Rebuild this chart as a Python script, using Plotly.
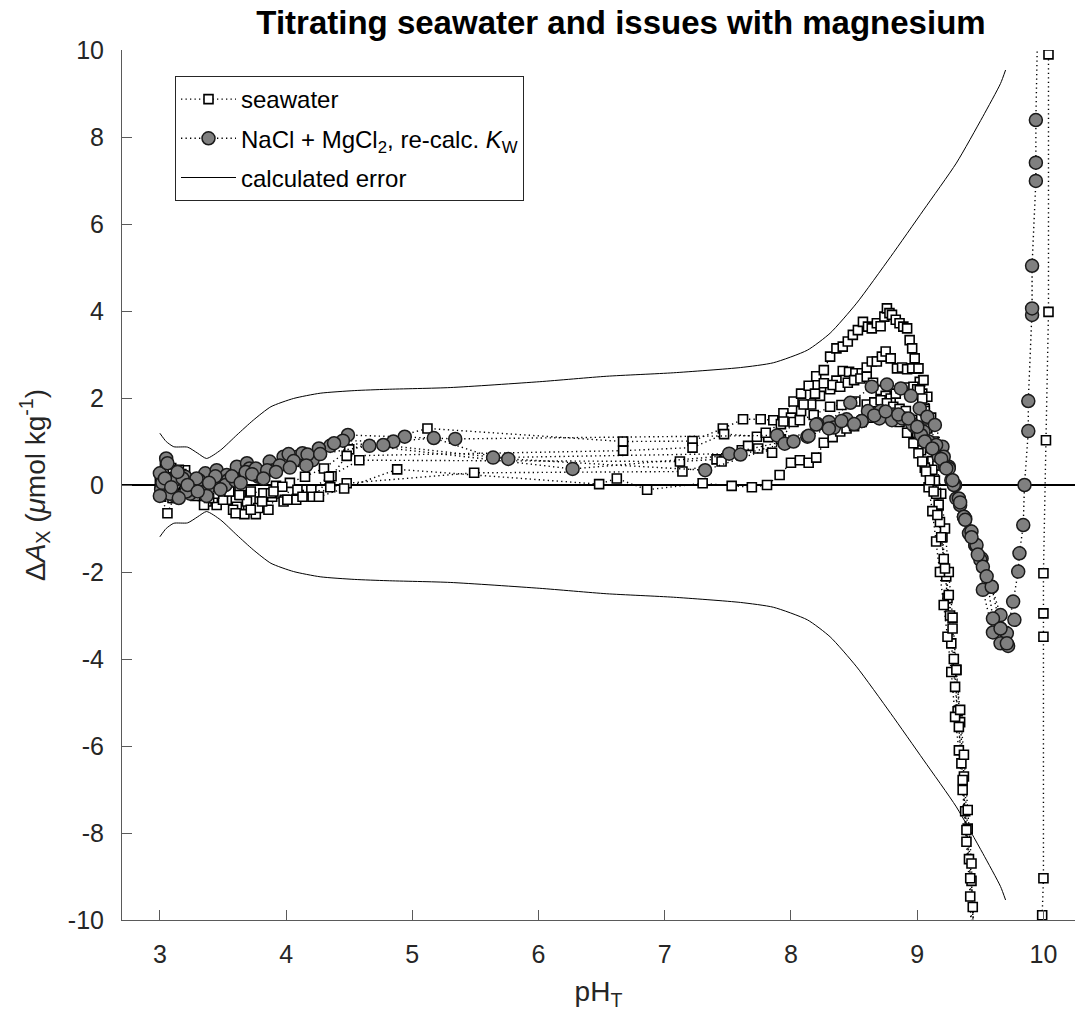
import plotly.graph_objects as go

# ---------------- data ----------------
# seawater titrations (squares)
sw1_x = [3.00, 3.04, 3.09, 3.14, 3.20, 3.26, 3.33, 3.40, 3.48, 3.56,
         3.64, 3.72, 3.82, 3.92, 4.03, 4.15, 4.30, 4.50, 5.12, 6.67,
         7.22, 7.46, 7.62, 7.76, 7.86, 7.94, 8.02, 8.08, 8.14, 8.20,
         8.26, 8.31, 8.36, 8.41, 8.45, 8.49, 8.53, 8.57, 8.61, 8.64,
         8.68, 8.71, 8.74, 8.76, 8.78, 8.80, 8.83, 8.86, 8.89, 8.92,
         8.94, 8.96, 8.98, 9.00, 9.02, 9.04, 9.06, 9.08, 9.10, 9.12,
         9.14, 9.17, 9.20, 9.23, 9.26, 9.29, 9.32, 9.35, 9.38, 9.41,
         9.44, 9.50]
sw1_y = [0.05, 0.50, 0.39, 0.20, 0.34, 0.10, -0.05, -0.20, -0.10, -0.15,
         -0.23, -0.15, -0.19, -0.02, 0.05, 0.19, 0.38, 0.82, 1.30, 1.00,
         1.01, 1.30, 1.51, 1.51, 1.49, 1.65, 1.92, 2.10, 2.28, 2.50,
         2.64, 2.95, 3.14, 3.18, 3.30, 3.45, 3.56, 3.75, 3.64, 3.60,
         3.72, 3.65, 3.87, 4.06, 3.95, 3.91, 3.80, 3.72, 3.64, 3.60,
         3.33, 3.14, 2.91, 2.68, 2.37, 2.10, 1.75, 1.35, 0.96, 0.55,
         0.10, -0.45, -1.20, -2.10, -3.00, -4.00, -5.20, -6.40, -7.50, -8.60,
         -9.70, -13.0]

sw2_x = [3.01, 3.06, 3.11, 3.17, 3.23, 3.30, 3.37, 3.45, 3.53, 3.61,
         3.70, 3.79, 3.89, 3.99, 4.10, 4.22, 4.36, 4.48, 6.67, 7.22,
         7.47, 7.73, 7.82, 7.92, 8.00, 8.08, 8.16, 8.23, 8.31, 8.36,
         8.41, 8.46, 8.51, 8.56, 8.60, 8.64, 8.68, 8.72, 8.75, 8.79,
         8.84, 8.88, 8.92, 8.96, 9.01, 9.05, 9.08, 9.11, 9.13, 9.16,
         9.19, 9.22, 9.25, 9.28, 9.31, 9.34, 9.37, 9.40, 9.43, 9.48]
sw2_y = [-0.27, -0.65, -0.30, 0.25, 0.05, -0.20, -0.38, -0.46, -0.34, -0.50,
         -0.57, -0.38, -0.27, -0.34, -0.23, -0.27, 0.20, 0.67, 0.79, 0.86,
         1.17, 1.11, 1.10, 1.40, 1.55, 1.70, 1.85, 2.05, 2.20, 2.40,
         2.62, 2.60, 2.57, 2.57, 2.70, 2.84, 2.84, 2.95, 3.07, 2.91,
         2.68, 2.70, 2.66, 2.68, 2.68, 2.41, 2.03, 1.55, 1.00, 0.45,
         -0.20, -1.00, -2.00, -3.05, -4.25, -5.45, -6.70, -7.90, -9.10, -13.0]

sw3_x = [3.02, 3.07, 3.13, 3.19, 3.26, 3.34, 3.42, 3.50, 3.58, 3.67,
         3.76, 3.86, 3.97, 4.08, 4.20, 4.34, 4.58, 7.12, 7.41, 7.61,
         7.74, 7.85, 7.92, 8.02, 8.10, 8.19, 8.26, 8.33, 8.39, 8.45,
         8.50, 8.55, 8.60, 8.65, 8.71, 8.75, 8.79, 8.83, 8.87, 8.92,
         8.97, 9.00, 9.02, 9.04, 9.06, 9.08, 9.10, 9.12, 9.15, 9.18,
         9.21, 9.24, 9.27, 9.30, 9.33, 9.36, 9.39, 9.42, 9.46]
sw3_y = [0.15, 0.05, -0.10, -0.15, 0.00, -0.25, -0.30, -0.34, -0.57, -0.67,
         -0.67, -0.57, -0.04, -0.34, -0.11, 0.19, 0.57, 0.54, 0.59, 0.80,
         0.84, 0.74, 1.05, 1.45, 1.85, 2.10, 2.34, 2.30, 2.26, 2.35,
         2.41, 2.45, 2.49, 2.35, 2.18, 2.05, 1.99, 2.10, 2.22, 2.24,
         2.26, 2.20, 2.18, 1.99, 1.70, 1.30, 0.85, 0.35, -0.20, -0.85,
         -1.70, -2.60, -3.64, -4.64, -5.56, -6.78, -7.93, -9.04, -13.0]

sw4_x = [3.00, 3.05, 3.10, 3.15, 3.21, 3.28, 3.35, 3.43, 3.51, 3.60,
         3.69, 3.78, 3.88, 3.98, 4.09, 4.21, 4.35, 4.48, 5.49, 7.14,
         7.45, 7.66, 7.80, 7.94, 8.07, 8.18, 8.31, 8.40, 8.51, 8.60,
         8.66, 8.71, 8.76, 8.81, 8.86, 8.91, 8.96, 9.00, 9.03, 9.06,
         9.09, 9.12, 9.15, 9.18, 9.21, 9.24, 9.27, 9.30, 9.33, 9.36,
         9.39, 9.42, 9.45]
sw4_y = [-0.15, 0.10, -0.30, 0.35, -0.10, -0.25, -0.46, -0.20, -0.15, -0.65,
         -0.38, -0.53, -0.19, -0.38, -0.11, -0.27, -0.05, 0.04, 0.28, 0.31,
         0.54, 0.90, 1.20, 1.46, 1.49, 1.61, 1.80, 1.84, 1.92, 1.85,
         1.90, 1.95, 1.88, 1.80, 1.75, 1.70, 1.50, 1.20, 0.80, 0.40,
         -0.05, -0.60, -1.30, -2.00, -2.76, -3.49, -4.30, -5.33, -6.10, -7.01,
         -8.20, -9.46, -13.0]

sw5_x = [3.03, 3.08, 3.12, 3.18, 3.24, 3.31, 3.39, 3.47, 3.55, 3.63,
         3.72, 3.81, 3.90, 4.01, 4.13, 4.26, 4.46, 4.88, 6.48, 6.62,
         6.86, 7.30, 7.53, 7.69, 7.81, 7.91, 8.00, 8.07, 8.14, 8.20,
         8.26, 8.33, 8.39, 8.44, 8.50, 8.56, 8.62, 8.68, 8.74, 8.80,
         8.86, 8.92, 8.97, 9.01, 9.04, 9.07, 9.10, 9.13, 9.16, 9.19,
         9.22, 9.25, 9.28, 9.31, 9.34, 9.37, 9.40, 9.43, 9.47]
sw5_y = [0.30, -0.05, 0.15, -0.20, 0.05, -0.10, -0.30, 0.00, -0.15, -0.23,
         -0.57, -0.38, -0.15, -0.34, -0.27, -0.27, -0.08, 0.36, 0.02, 0.15,
         -0.11, 0.04, -0.02, -0.05, 0.00, 0.23, 0.51, 0.57, 0.51, 0.63,
         0.97, 1.10, 1.23, 1.30, 1.35, 1.45, 1.55, 1.60, 1.65, 1.60,
         1.45, 1.20, 0.96, 0.73, 0.54, 0.31, 0.11, -0.15, -0.69, -1.20,
         -1.92, -2.53, -3.30, -4.25, -5.17, -6.20, -7.47, -8.70, -13.0]

sw6_x = [9.98, 9.99, 10.00, 10.00, 10.00, 10.00, 10.02, 10.04, 10.04, 10.05]
sw6_y = [-13.0, -9.89, -9.04, -3.49, -2.95, -2.03, 1.03, 3.98, 9.90, 13.0]

# NaCl + MgCl2 titrations (circles)
mg1_x = [3.00, 3.05, 3.11, 3.20, 3.28, 3.36, 3.45, 3.53, 3.61, 3.69,
         3.78, 3.87, 3.98, 4.09, 4.21, 4.35, 4.49, 4.94, 5.34, 7.89,
         8.13, 8.30, 8.47, 8.64, 8.76, 8.87, 8.95, 9.02, 9.08, 9.14,
         9.20, 9.25, 9.30, 9.34, 9.38, 9.42, 9.46, 9.51, 9.59, 9.66,
         9.71, 9.76, 9.80, 9.81, 9.84, 9.85, 9.88, 9.88, 9.91, 9.91,
         9.91, 9.94, 9.94, 9.94, 9.97]
mg1_y = [0.27, 0.61, 0.10, 0.19, 0.05, 0.27, 0.34, 0.23, 0.42, 0.50,
         0.19, 0.54, 0.65, 0.65, 0.57, 0.90, 1.15, 1.11, 1.06, 1.14,
         1.11, 1.45, 1.89, 2.26, 2.31, 2.22, 2.05, 1.76, 1.57, 1.38,
         0.88, 0.42, 0.00, -0.46, -0.77, -1.07, -1.38, -1.69, -2.34, -3.30,
         -3.41, -2.68, -1.99, -1.57, -0.92, 0.00, 1.24, 1.93, 3.91, 4.06,
         5.04, 6.99, 7.41, 8.39, 13.0]

mg2_x = [3.01, 3.06, 3.12, 3.18, 3.24, 3.31, 3.38, 3.46, 3.54, 3.62,
         3.71, 3.80, 3.90, 4.02, 4.13, 4.26, 4.45, 4.85, 5.17, 5.64,
         7.51, 8.14, 8.21, 8.34, 8.44, 8.56, 8.61, 8.71, 8.81, 8.90,
         8.98, 9.05, 9.12, 9.17, 9.22, 9.27, 9.31, 9.37, 9.41, 9.46,
         9.50, 9.52, 9.60, 9.66, 9.72]
mg2_y = [-0.10, 0.50, -0.25, 0.15, -0.20, 0.11, -0.08, 0.08, 0.11, 0.11,
         0.38, 0.19, 0.34, 0.71, 0.73, 0.84, 1.02, 1.00, 1.08, 0.63,
         0.72, 1.13, 1.40, 1.32, 1.51, 1.47, 1.70, 1.70, 1.62, 1.53,
         1.34, 1.23, 0.84, 0.65, 0.42, 0.11, -0.31, -0.73, -1.11, -1.38,
         -1.72, -2.41, -3.39, -3.64, -3.70]

mg3_x = [3.02, 3.08, 3.14, 3.21, 3.29, 3.37, 3.44, 3.52, 3.60, 3.68,
         3.76, 3.85, 3.95, 4.06, 4.17, 4.38, 4.77, 5.76, 7.32, 7.95,
         8.20, 8.40, 8.56, 8.70, 8.80, 8.88, 8.96, 9.03, 9.09, 9.15,
         9.21, 9.25, 9.29, 9.33, 9.37, 9.43, 9.47, 9.52, 9.59, 9.66,
         9.77]
mg3_y = [0.05, -0.20, 0.30, -0.15, 0.15, -0.25, 0.20, 0.00, 0.10, 0.30,
         0.38, 0.34, 0.45, 0.55, 0.70, 0.96, 0.92, 0.60, 0.34, 0.95,
         1.39, 1.47, 1.47, 1.53, 1.49, 1.53, 1.40, 1.15, 1.00, 0.92,
         0.65, 0.38, 0.00, -0.31, -0.73, -1.07, -1.38, -1.88, -2.34, -2.99,
         -3.10]

mg4_x = [3.00, 3.04, 3.09, 3.15, 3.22, 3.30, 3.39, 3.48, 3.57, 3.64,
         3.73, 3.82, 3.92, 4.03, 4.16, 4.27, 4.66, 6.27, 7.60, 8.02,
         8.30, 8.50, 8.66, 8.75, 8.85, 8.93, 9.00, 9.06, 9.12, 9.19,
         9.23, 9.28, 9.34, 9.38, 9.43, 9.48, 9.55, 9.60, 9.66, 9.71]
mg4_y = [-0.25, 0.15, -0.05, -0.30, 0.00, -0.15, 0.05, -0.10, 0.20, 0.05,
         0.25, 0.15, 0.30, 0.40, 0.45, 0.71, 0.90, 0.37, 0.70, 1.00,
         1.30, 1.40, 1.60, 1.69, 1.62, 1.53, 1.34, 1.00, 0.84, 0.60,
         0.38, 0.11, -0.40, -0.80, -1.20, -1.60, -2.10, -3.07, -3.30, -3.64]

# calculated error envelope (+/-)
err_x = [3.00, 3.05, 3.11, 3.22, 3.30, 3.37, 3.48, 3.61, 3.74, 3.88,
         4.06, 4.27, 4.54, 4.80, 5.30, 6.01, 6.54, 7.07, 7.60, 7.86,
         8.13, 8.31, 8.52, 8.79, 9.05, 9.31, 9.52, 9.66, 9.70]
err_y = [1.19, 1.00, 0.88, 0.87, 0.73, 0.61, 0.80, 1.15, 1.49, 1.80,
         1.99, 2.11, 2.17, 2.20, 2.24, 2.375, 2.50, 2.58, 2.70, 2.81,
         3.10, 3.49, 4.18, 5.25, 6.32, 7.40, 8.47, 9.23, 9.54]

x_ticks = [3, 4, 5, 6, 7, 8, 9, 10]
y_ticks = [-10, -8, -6, -4, -2, 0, 2, 4, 6, 8, 10]


def join_runs(runs):
    xs, ys = [], []
    for rx, ry in runs:
        if xs:
            xs.append(None)
            ys.append(None)
        xs.extend(rx)
        ys.extend(ry)
    return xs, ys


sw_x, sw_y = join_runs([(sw1_x, sw1_y), (sw2_x, sw2_y), (sw3_x, sw3_y),
                        (sw4_x, sw4_y), (sw5_x, sw5_y), (sw6_x, sw6_y)])
mg_x, mg_y = join_runs([(mg1_x, mg1_y), (mg2_x, mg2_y), (mg3_x, mg3_y),
                        (mg4_x, mg4_y)])
env_x, env_y = join_runs([(err_x, err_y), (err_x, [-v for v in err_y])])

FONT = "Liberation Sans, Arial, Helvetica, sans-serif"
AXC = "#5a5a5a"
TXT = "#262626"
DOTS = "1.3px,3.2px"

fig = go.Figure()

fig.add_trace(go.Scatter(
    x=env_x, y=env_y, mode="lines", name="calculated error",
    line=dict(color="black", width=1, shape="spline", smoothing=0.6),
    legendgroup="c", legendrank=3,
))
fig.add_trace(go.Scatter(
    x=sw_x, y=sw_y, mode="lines+markers", name="seawater",
    line=dict(color="black", width=1.4, dash=DOTS),
    marker=dict(symbol="square", size=9, color="white",
                line=dict(color="black", width=1.6)),
    legendgroup="a", legendrank=1,
))
fig.add_trace(go.Scatter(
    x=mg_x, y=mg_y, mode="lines+markers",
    name="NaCl + MgCl<sub>2</sub>, re-calc. <i>K</i><sub>W</sub>",
    line=dict(color="black", width=1.4, dash=DOTS),
    marker=dict(symbol="circle", size=13, color="#808080",
                line=dict(color="#1a1a1a", width=1.5)),
    legendgroup="b", legendrank=2,
))

fig.update_layout(
    width=1075, height=1017,
    margin=dict(l=122, r=0, t=50, b=97),
    paper_bgcolor="white", plot_bgcolor="white",
    font=dict(family=FONT, size=24, color=TXT),
    title=dict(text="<b>Titrating seawater and issues with magnesium</b>",
               x=(621 - 122) / 953, xref="paper", xanchor="center",
               y=1 - 22 / 1017, yref="container", yanchor="middle",
               font=dict(family=FONT, size=33, color="black")),
    showlegend=True,
    legend=dict(x=(175 - 122) / 953, y=(920 - 76) / 870,
                xanchor="left", yanchor="top",
                bgcolor="white", bordercolor="#262626", borderwidth=1,
                font=dict(family=FONT, size=24, color="black"),
                traceorder="grouped", tracegroupgap=5,
                itemwidth=55, entrywidth=310, entrywidthmode="pixels"),
    xaxis=dict(range=[2.7, 10.25], tickvals=x_ticks,
               ticktext=[str(v) for v in x_ticks],
               ticks="inside", ticklen=10, tickcolor=AXC, tickwidth=1,
               showline=True, linecolor=AXC, linewidth=1,
               showgrid=False, zeroline=False, mirror=False,
               tickfont=dict(family=FONT, size=25, color=TXT),
               ticklabelstandoff=12,
               title=dict(text="pH<sub>T</sub>", standoff=14,
                          font=dict(family=FONT, size=28, color=TXT))),
    yaxis=dict(range=[-10, 10], tickvals=y_ticks,
               ticktext=[str(v) for v in y_ticks],
               ticks="inside", ticklen=10, tickcolor=AXC, tickwidth=1,
               showline=True, linecolor=AXC, linewidth=1,
               showgrid=False, zeroline=True, zerolinecolor="black",
               zerolinewidth=2, layer="above traces",
               tickfont=dict(family=FONT, size=25, color=TXT),
               ticklabelstandoff=12,
               title=dict(text="Δ<i>A</i><sub>X</sub> (<i>μ</i>mol kg<sup>-1</sup>)",
                          standoff=14,
                          font=dict(family=FONT, size=28, color=TXT))),
)

fig.write_html("out.html")
